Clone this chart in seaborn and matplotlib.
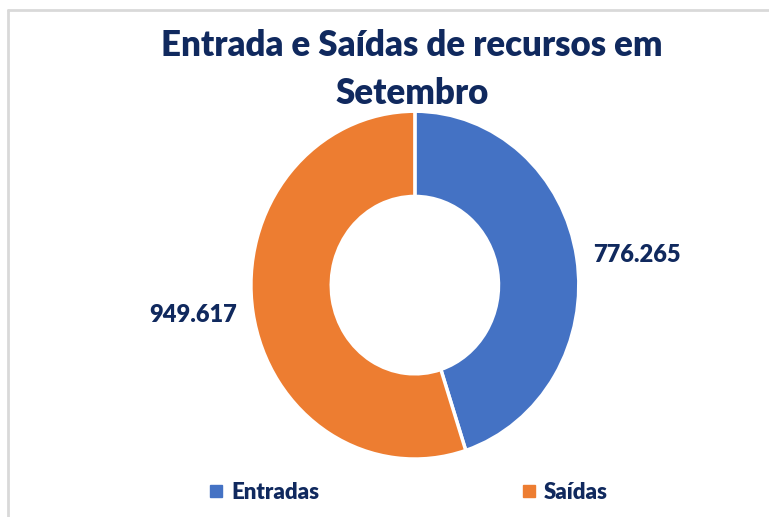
import matplotlib
matplotlib.use('Agg')
import matplotlib.pyplot as plt
from matplotlib.lines import Line2D
import seaborn as sns

sns.set_theme(style='white')
plt.rcParams['font.family'] = ['Lato', 'DejaVu Sans']

# dados
categorias = ['Entradas', 'Saídas']
valores = [776.265, 949.617]
rotulos = ['776.265', '949.617']
cores = ['#4472C4', '#ED7D31']
azul_texto = '#10295E'

fig = plt.figure(figsize=(7.69, 5.17), dpi=100)
fig.patch.set_facecolor('white')

# moldura cinza (topo e esquerda)
fig.add_artist(Line2D([8/769, 1], [1 - 10/517, 1 - 10/517], color='#D9D9D9', lw=2))
fig.add_artist(Line2D([8/769, 8/769], [0, 1 - 10/517], color='#D9D9D9', lw=2))

ax = fig.add_axes([0.273, 0.028, 0.533, 0.841])
wedges, texts = ax.pie(valores, colors=cores, startangle=90, counterclock=False,
                       labels=rotulos, labeldistance=1.1,
                       wedgeprops=dict(width=0.49, edgecolor='white', linewidth=2.5),
                       textprops=dict(fontsize=17, fontweight='heavy', color=azul_texto))
ax.set_aspect('auto')
ax.set_xlim(-1.25, 1.25)
ax.set_ylim(-1.25, 1.25)
for t in texts:
    t.set_va('center')

fig.text(0.536, 0.866, 'Entrada e Saídas de recursos em\nSetembro', ha='center', va='center',
         fontsize=25, fontweight='heavy', color=azul_texto, linespacing=1.55)

handles = [Line2D([], [], marker='s', linestyle='none', markersize=8, color=c) for c in cores]
leg = fig.legend(handles, categorias, loc='center', bbox_to_anchor=(0.53, 0.048), ncol=2,
                 frameon=False, columnspacing=9.0, handletextpad=0.3, handlelength=0.8,
                 prop=dict(size=16, weight='heavy'))
for t in leg.get_texts():
    t.set_color(azul_texto)

fig.savefig('out.png', dpi=100, facecolor='white')
